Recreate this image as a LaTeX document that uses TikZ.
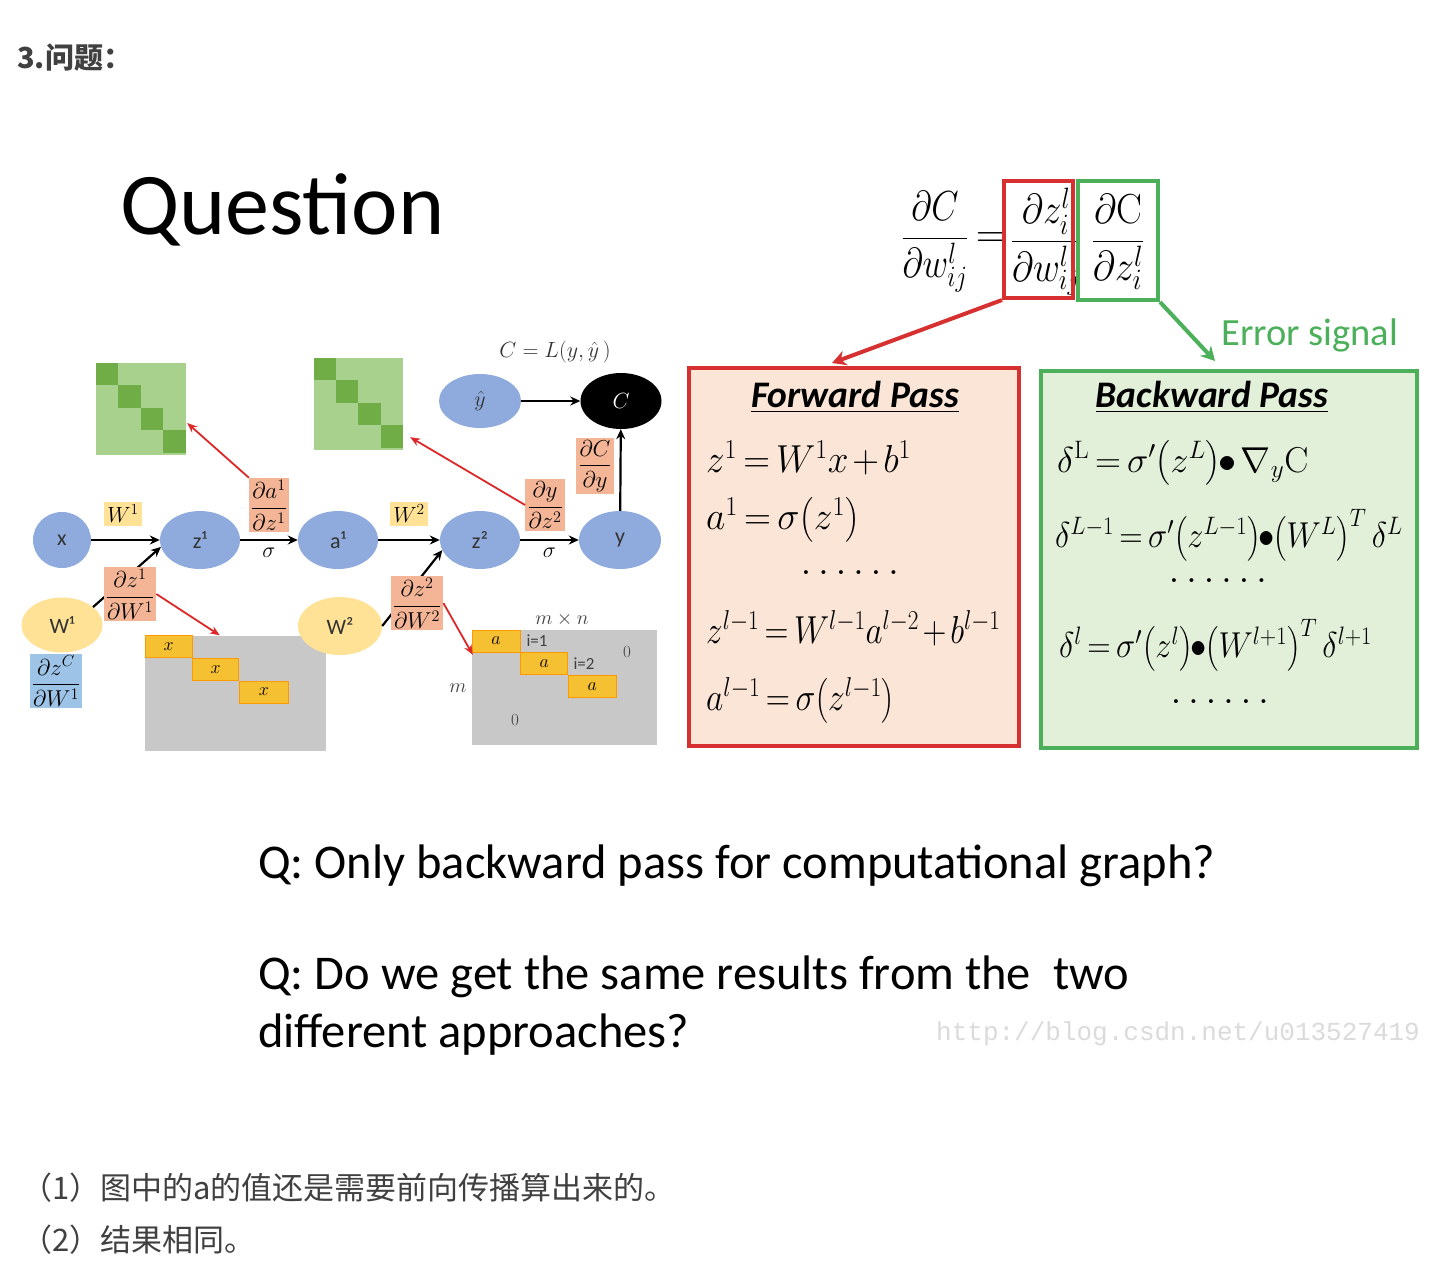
\RequirePackage{fix-cm}
\documentclass[tikz,border=0pt]{standalone}
\usepackage{amsmath}
\usepackage{graphicx}
\usepackage[no-math]{fontspec}
\setmainfont{Carlito}
\newfontfamily\cjk{Noto Sans CJK SC}
\newfontfamily\wmfont{Liberation Mono}
\usetikzlibrary{shapes.geometric,arrows.meta,calc}
\definecolor{nodeblue}{RGB}{143,170,220}
\definecolor{wyellow}{RGB}{255,226,150}
\definecolor{salmon}{RGB}{244,181,150}
\definecolor{lblue}{RGB}{157,195,230}
\definecolor{gmat}{RGB}{169,209,142}
\definecolor{gdark}{RGB}{112,173,71}
\definecolor{graym}{RGB}{200,200,200}
\definecolor{cellyel}{RGB}{245,192,50}
\definecolor{fred}{RGB}{214,48,48}
\definecolor{ffill}{RGB}{251,229,214}
\definecolor{bgreen}{RGB}{76,175,90}
\definecolor{bfill}{RGB}{226,240,217}
\definecolor{arrred}{RGB}{220,40,40}
\definecolor{txtgray}{RGB}{64,64,64}
\newcommand\tightmath{\thickmuskip=3mu\relax\medmuskip=2mu\relax}
\tikzset{
  ell/.style={ellipse, fill=nodeblue, inner sep=0pt, minimum width=80pt, minimum height=58pt, font=\fontsize{22}{26}\selectfont, text=black!80},
  yell/.style={ellipse, fill=wyellow, inner sep=0pt, minimum width=82pt, minimum height=56pt, font=\fontsize{22}{26}\selectfont, text=black!80},
  barr/.style={-{Stealth[length=10pt,width=9pt]}, line width=2.2pt},
  rarr/.style={-{Stealth[length=10pt,width=8pt]}, line width=1.8pt, draw=arrred, color=arrred},
  lbl/.style={fill=salmon, inner sep=2pt, font=\fontsize{23}{25}\selectfont},
  wlbl/.style={fill=wyellow, inner sep=3pt, font=\fontsize{22}{24}\selectfont},
  gmatrix/.style={fill=gmat, inner sep=0pt},
  graymatrix/.style={fill=graym, inner sep=0pt},
  cellbox/.style={fill=cellyel, draw=orange!80!yellow, line width=0.6pt, minimum height=22pt, inner sep=0pt, anchor=north west, font=\fontsize{18}{20}\selectfont},
  mtxt/.style={font=\fontsize{17}{20}\selectfont, text=black!75},
  fml/.style={anchor=west, inner sep=0pt, font=\fontsize{39}{44}\selectfont\tightmath},
  bfml/.style={anchor=west, inner sep=0pt, font=\fontsize{36}{40}\selectfont\tightmath},
  topf/.style={font=\fontsize{42}{50}\selectfont},
  dots/.style={font=\fontsize{40}{44}\selectfont},
  bigq/.style={anchor=base west, inner sep=0pt, font=\fontsize{48.5}{56}\selectfont},
  cjktxt/.style={anchor=west, inner sep=0pt, text=txtgray, font=\cjk\fontsize{31}{36}\selectfont},
}
\begin{document}
\begin{tikzpicture}[x=1pt,y=-1pt]
\useasboundingbox[fill=white] (0,0) rectangle (1442,1270);

% heading
\node[anchor=west, inner sep=0pt, text=txtgray, font=\cjk\bfseries\fontsize{29}{34}\selectfont] (head) at (17,58) {3.问题：};

% slide title
\node[anchor=base west, inner sep=0pt, font=\fontsize{88}{100}\selectfont] (title) at (120,234) {Question};

% top formula
\node[topf] (lhs) at (935,242) {\scalebox{0.84}[1]{$\displaystyle\frac{\partial C}{\partial w^l_{ij}}$}};
\node[topf] (eq) at (991,240) {$=$};
\node[topf] (mid) at (1046,242) {\scalebox{0.88}[1]{$\displaystyle\frac{\partial z^l_i}{\partial w^l_{ij}}$}};
\node[topf] (rhs) at (1118,242) {\scalebox{0.92}[1]{$\displaystyle\frac{\partial \mathrm{C}}{\partial z^l_i}$}};
\node[draw=fred, line width=4pt, minimum width=69pt, minimum height=117pt, inner sep=0pt] (rb) at (1038.5,239.5) {};
\node[draw=bgreen, line width=4pt, minimum width=80pt, minimum height=119pt, inner sep=0pt] (gb) at (1118,240.5) {};

% forward / backward boxes
\node[draw=fred, fill=ffill, line width=4pt, minimum width=330pt, minimum height=378pt, inner sep=0pt] (fwd) at (854,557) {};
\node[draw=bgreen, fill=bfill, line width=4pt, minimum width=376pt, minimum height=377pt, inner sep=0pt] (bwd) at (1229,559.5) {};

\coordinate (fa) at (832,363);
\coordinate (ba) at (1215,361);
\draw[line width=4pt, fred, -{Stealth[length=14pt,width=15pt]}] (rb.south west) -- (fa);
\draw[line width=4pt, bgreen, -{Stealth[length=14pt,width=15pt]}] (gb.south east) -- (ba);
\node[anchor=west, inner sep=0pt, text=bgreen, font=\fontsize{38.5}{42}\selectfont] (err) at (1221,335) {Error signal};

% forward pass contents
\node[font=\bfseries\itshape\fontsize{37.5}{40}\selectfont] (ftitle) at (855,397) {\underline{Forward Pass}};
\node[fml] (f1) at (706,458) {\scalebox{0.95}[1]{$z^1 = W^1x + b^1$}};
\node[fml] (f2) at (706,520) {\scalebox{0.96}[1]{$a^1 = \sigma\!\left(z^1\right)$}};
\node[dots] (f3) at (850,573) {$\ldots\ldots$};
\node[fml] (f4) at (706,628) {\scalebox{0.85}[1]{$z^{l-1} = W^{l-1}a^{l-2} + b^{l-1}$}};
\node[fml] (f5) at (706,700) {\scalebox{0.86}[1]{$a^{l-1} = \sigma\!\left(z^{l-1}\right)$}};

% backward pass contents
\node[font=\bfseries\itshape\fontsize{37.5}{40}\selectfont] (btitle) at (1212,397) {\underline{Backward Pass}};
\node[bfml] (b1) at (1057,463) {$\delta^{\mathrm{L}} = \sigma'\!\left(z^L\right)\!\bullet\nabla_{y}\mathrm{C}$};
\node[bfml] (b2) at (1055,535) {\scalebox{0.9}[1]{$\delta^{L-1} = \sigma'\!\left(z^{L-1}\right)\!\bullet\!\left(W^L\right)^{T}\delta^L$}};
\node[dots] (b3) at (1218,581) {$\ldots\ldots$};
\node[bfml] (b4) at (1059,645) {\scalebox{0.9}[1]{$\delta^{l} = \sigma'\!\left(z^l\right)\!\bullet\!\left(W^{l+1}\right)^{T}\delta^{l+1}$}};
\node[dots] (b5) at (1220,702) {$\ldots\ldots$};

% green jacobian matrices
\node[gmatrix, minimum width=90pt, minimum height=92pt] (g1) at (141,409) {};
\foreach \i in {0,...,3}
  \fill[gdark] ($(g1.north west)+(\i*22.5,\i*22.5)$) rectangle +(22.5,22.5);
\node[gmatrix, minimum width=89pt, minimum height=92pt] (g2) at (358.5,404) {};
\foreach \i in {0,...,3}
  \fill[gdark] ($(g2.north west)+(\i*22.25,\i*22.5)$) rectangle +(22.25,22.5);

% gray matrices
\node[graymatrix, minimum width=181pt, minimum height=115pt] (m1) at (235.5,693) {};
\node[cellbox, minimum width=47pt] (c11) at (m1.north west) {$x$};
\node[cellbox, minimum width=46pt] (c12) at (c11.south east) {$x$};
\node[cellbox, minimum width=49pt] (c13) at (c12.south east) {$x$};

\node[graymatrix, minimum width=185pt, minimum height=115pt] (m2) at (564.5,687.5) {};
\node[cellbox, minimum width=48pt] (c21) at (m2.north west) {$a$};
\node[cellbox, minimum width=47pt] (c22) at (c21.south east) {$a$};
\node[cellbox, minimum width=48pt] (c23) at (c22.south east) {$a$};
\node[mtxt] (i1) at (537,641) {i=1};
\node[mtxt] (i2) at (584,664) {i=2};
\node[mtxt] (z1m) at (627,652) {$0$};
\node[mtxt] (z2m) at (515,720) {$0$};
\node[mtxt, font=\fontsize{20}{22}\selectfont] (mm) at (458,688) {$m$};
\node[mtxt, font=\fontsize{20}{22}\selectfont] (mn) at (562,619) {$m\times n$};

% graph nodes
\node[ell, minimum width=58pt, minimum height=56pt] (x) at (62,540) {x};
\node[ell] (z1) at (200,540) {z¹};
\node[ell] (a1) at (338,540) {a¹};
\node[ell] (z2) at (480,540) {z²};
\node[ell, minimum width=82pt] (y) at (620,540) {y};
\node[ell, minimum width=82pt, minimum height=54pt] (yh) at (480,401) {$\hat{y}$};
\node[ellipse, fill=black, inner sep=0pt, minimum width=81pt, minimum height=56pt, text=white, font=\fontsize{22}{26}\selectfont] (C) at (621,401) {$C$};
\node[yell, minimum width=81pt, minimum height=55pt] (W1) at (62,625) {W¹};
\node[yell, minimum width=84pt, minimum height=58pt] (W2) at (340,626) {W²};

\node[font=\fontsize{22}{26}\selectfont, text=black!80] (cl) at (555,352) {$C = L(y,\hat{y}\,)$};

% graph edges
\draw[barr] (x) -- (z1);
\draw[barr] (z1) -- (a1) node[midway, below=4pt, font=\fontsize{22}{26}\selectfont] (s1) {$\sigma$};
\draw[barr] (a1) -- (z2);
\draw[barr] (z2) -- (y) node[midway, below=4pt, font=\fontsize{22}{26}\selectfont] (s2) {$\sigma$};
\draw[barr] (yh) -- (C);
\draw[barr] (y) -- (C);
\draw[barr] (W1.30) -- (z1.190);
\draw[barr] (W2.east) -- (z2.195);

% label boxes
\node[wlbl] (w1l) at (123,514) {$W^1$};
\node[wlbl] (w2l) at (409,514) {$W^2$};
\node[lbl] (da1) at (269,505) {$\dfrac{\partial a^1}{\partial z^1}$};
\node[lbl] (dz1) at (130,594) {$\dfrac{\partial z^1}{\partial W^1}$};
\node[lbl, fill=lblue] (dzc) at (56,681) {$\dfrac{\partial z^C}{\partial W^1}$};
\node[lbl] (dy) at (545,505) {$\dfrac{\partial y}{\partial z^2}$};
\node[lbl] (dc) at (595,466) {$\dfrac{\partial C}{\partial y}$};
\node[lbl] (dz2) at (417,603) {$\dfrac{\partial z^2}{\partial W^2}$};

% red arrows to matrices
\draw[rarr] (da1.north west) -- ($(g1.east)+(1,14)$);
\draw[rarr] (dy.west) -- ($(g2.south east)+(7,-13)$);
\draw[rarr] (dz1.east) -- ($(m1.north west)+(75,0)$);
\draw[rarr] (dz2.east) -- ($(m2.north west)+(1,25)$);

% questions
\node[bigq] (q1) at (258,878) {Q: Only backward pass for computational graph?};
\node[bigq] (q2) at (258,989) {Q: Do we get the same results from the\ \ two};
\node[bigq] (q3) at (258,1047) {different approaches?};

% watermark
\node[anchor=west, inner sep=0pt, text=black!14, font=\wmfont\fontsize{26}{30}\selectfont] (wm) at (936,1034) {http://blog.csdn.net/u013527419};

% answers
\node[cjktxt] (a1t) at (21,1188) {（1）图中的a的值还是需要前向传播算出来的。};
\node[cjktxt] (a2t) at (21,1240) {（2）结果相同。};
\end{tikzpicture}
\end{document}
